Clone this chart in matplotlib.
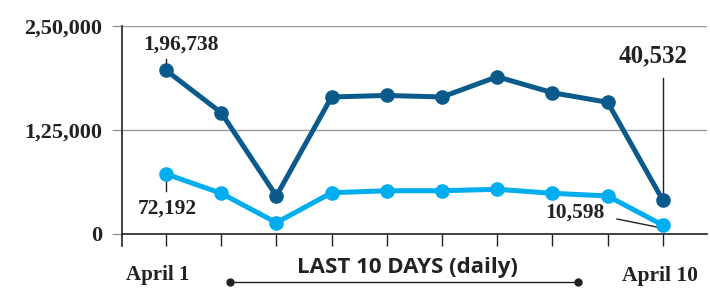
import matplotlib

matplotlib.use("Agg")
import matplotlib.pyplot as plt
from matplotlib.lines import Line2D

days = list(range(1, 11))
total = [196738, 145800, 45700, 164700, 166500, 164700, 189000, 169800, 158300, 40532]
second = [72192, 48900, 13600, 49600, 52000, 52000, 53700, 48900, 45700, 10598]
y_ticks = [0, 125000, 250000]
y_tick_labels = ["0", "1,25,000", "2,50,000"]

DARK = "#0a5b8c"
LIGHT = "#00adef"
INK = "#222222"
SERIF = "Liberation Serif"

fig = plt.figure(figsize=(7.1, 2.93), dpi=100)
ax = fig.add_axes([0.1718, 0.2014, 0.824, 0.7099])

x = [d - 1 for d in days]
ax.plot(x, total, color=DARK, lw=3.6, marker="o", ms=9.5, zorder=4, solid_capstyle="round")
ax.plot(x, second, color=LIGHT, lw=3.6, marker="o", ms=9.5, zorder=4, solid_capstyle="round")

ax.set_xlim(-0.797, 9.80)
ax.set_ylim(0, 250000)
ax.set_yticks(y_ticks)
ax.set_yticklabels(y_tick_labels, fontfamily=SERIF, fontweight="bold", fontsize=16, color=INK)
ax.set_xticks(x)
ax.set_xticklabels([])
ax.tick_params(axis="y", length=7.2, width=1, color="#999999", pad=7)
ax.tick_params(axis="x", length=8.6, width=1, color=INK)
ax.grid(axis="y", color="#999999", lw=1)

for side in ["top", "right", "left"]:
    ax.spines[side].set_visible(False)
ax.spines["bottom"].set_color(INK)
ax.spines["bottom"].set_linewidth(1.2)
ax.set_axisbelow(True)

# left axis line running slightly below zero
ax.plot([0, 0], [-14500, 250000], transform=ax.get_yaxis_transform(),
        color=INK, lw=1.2, clip_on=False, zorder=3)

# annotations
ax.text(0.27, 228000, "1,96,738", ha="center", va="center",
        fontfamily=SERIF, fontweight="bold", fontsize=15.5, color=INK)
ax.plot([0, 0], [total[0] + 3500, total[0] + 14000], color=INK, lw=1)

ax.text(0.02, 30000, "72,192", ha="center", va="center",
        fontfamily=SERIF, fontweight="bold", fontsize=15.5, color=INK)
ax.plot([0, 0], [second[0] - 4000, second[0] - 20000], color=INK, lw=1)

ax.text(8.82, 214000, "40,532", ha="center", va="center",
        fontfamily=SERIF, fontweight="bold", fontsize=18, color=INK)
ax.plot([9, 9], [total[9] + 2000, 188000], color=INK, lw=1)

ax.text(7.41, 25500, "10,598", ha="center", va="center",
        fontfamily=SERIF, fontweight="bold", fontsize=15.5, color=INK)
ax.plot([8.17, 8.89], [18000, 8400], color=INK, lw=1)

# bottom labels
fig.text(158 / 710, 1 - 275 / 293, "April 1", ha="center", va="center",
         fontfamily=SERIF, fontweight="bold", fontsize=15, color=INK)
fig.text(660 / 710, 1 - 276 / 293, "April 10", ha="center", va="center",
         fontfamily=SERIF, fontweight="bold", fontsize=15.5, color=INK)
fig.text(407 / 710, 1 - 267 / 293, "LAST 10 DAYS (daily)", ha="center", va="center",
         fontfamily="Open Sans", fontweight="bold", fontsize=16, color=INK)
fig.add_artist(Line2D([230 / 710, 578 / 710], [1 - 282 / 293, 1 - 282 / 293],
                      color=INK, lw=1, marker="o", ms=5, markevery=[0, 1]))

fig.savefig("out.png", dpi=100)
plt.close(fig)
